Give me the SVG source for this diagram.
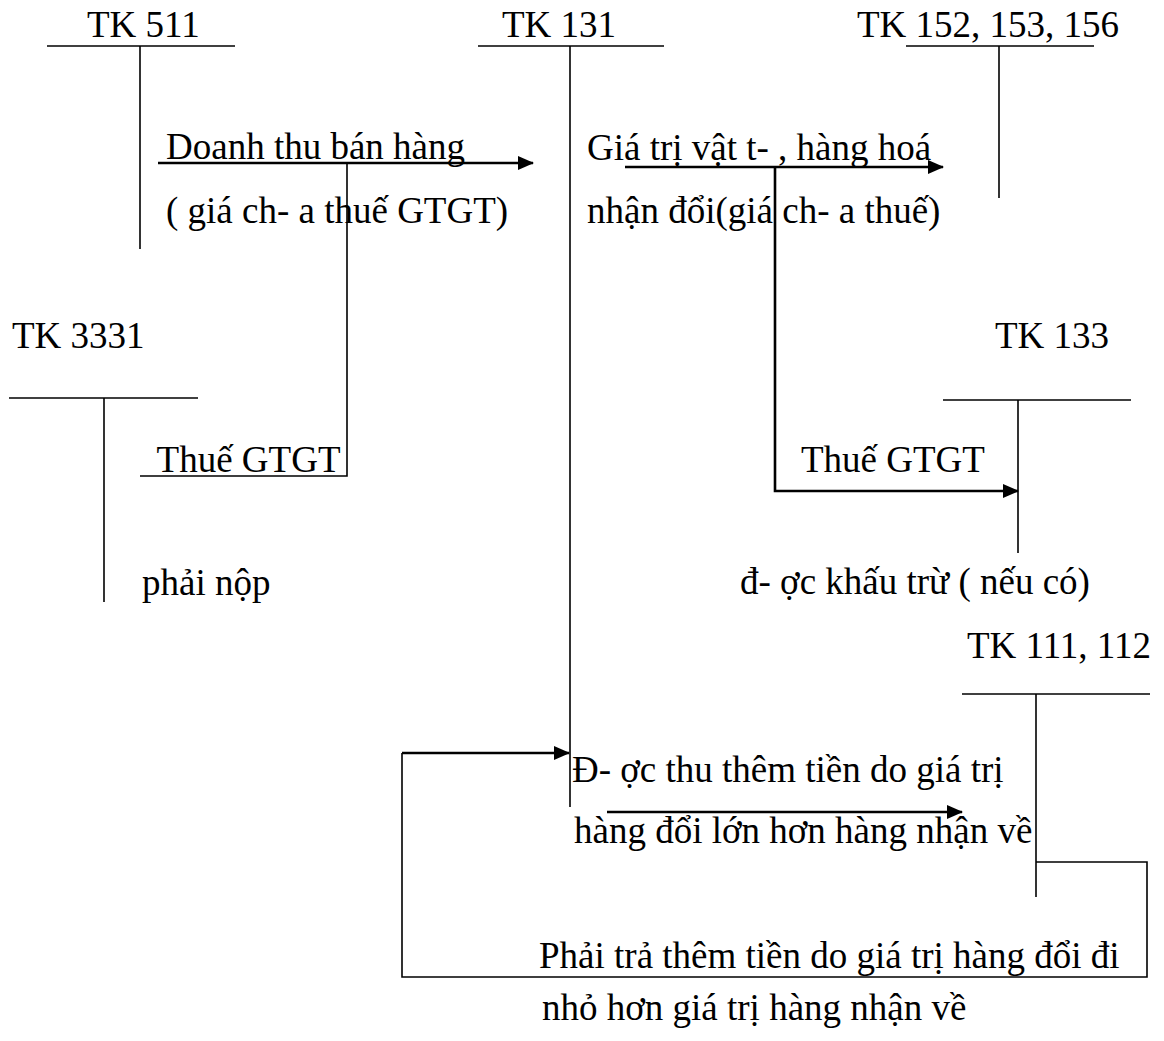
<svg xmlns="http://www.w3.org/2000/svg" width="1164" height="1041" viewBox="0 0 1164 1041">
  <defs>
    <marker id="arrow" markerUnits="userSpaceOnUse" markerWidth="16" markerHeight="14" refX="15" refY="7" orient="auto">
      <path d="M0,0 L16,7 L0,14 z" fill="#000"/>
    </marker>
    <style>
      text { font-family: "Liberation Serif", "Times New Roman", serif; font-size: 37px; fill: #000; white-space: pre; }
      .t { stroke: #000; stroke-width: 1.6; fill: none; }
      .a { stroke: #000; stroke-width: 2.6; fill: none; marker-end: url(#arrow); }
      .c { stroke: #000; stroke-width: 1.6; fill: none; }
    </style>
  </defs>
  <rect width="1164" height="1041" fill="#fff"/>

  <!-- T-accounts -->
  <g id="tk511">
    <text x="87" y="37">TK 511</text>
    <line class="t" x1="47" y1="46" x2="235" y2="46"/>
    <line class="t" x1="140" y1="46" x2="140" y2="249"/>
  </g>
  <g id="tk131">
    <text x="502" y="37">TK 131</text>
    <line class="t" x1="478" y1="46" x2="664" y2="46"/>
    <line class="t" x1="570" y1="46" x2="570" y2="807"/>
  </g>
  <g id="tk152">
    <text x="857" y="37">TK 152, 153, 156</text>
    <line class="t" x1="906" y1="46" x2="1094" y2="46"/>
    <line class="t" x1="999" y1="46" x2="999" y2="198"/>
  </g>
  <g id="tk3331">
    <text x="12" y="348">TK 3331</text>
    <line class="t" x1="9" y1="398" x2="198" y2="398"/>
    <line class="t" x1="104" y1="398" x2="104" y2="602"/>
  </g>
  <g id="tk133">
    <text x="995" y="348">TK 133</text>
    <line class="t" x1="943" y1="400" x2="1131" y2="400"/>
    <line class="t" x1="1018" y1="400" x2="1018" y2="553"/>
  </g>
  <g id="tk111">
    <text x="967" y="658">TK 111, 112</text>
    <line class="t" x1="962" y1="694" x2="1150" y2="694"/>
    <line class="t" x1="1036" y1="694" x2="1036" y2="897"/>
  </g>

  <!-- Connectors -->
  <g id="connectors">
    <line class="a" x1="158" y1="163" x2="533" y2="163"/>
    <polyline class="c" points="347,163 347,476 140,476"/>
    <line class="a" x1="625" y1="167" x2="943" y2="167"/>
    <polyline class="a" points="775,167 775,491 1018,491"/>
    <line class="a" x1="607" y1="812" x2="962" y2="812"/>
    <polyline class="c" points="1036,862 1147,862 1147,977 402,977 402,753"/>
    <line class="a" x1="402" y1="753" x2="569" y2="753"/>
  </g>

  <!-- Labels -->
  <g id="labels">
    <text x="166" y="159">Doanh thu bán hàng</text>
    <text x="166" y="223">( giá ch- a thuế GTGT)</text>
    <text x="587" y="160">Giá trị vật t- , hàng hoá</text>
    <text x="587" y="223">nhận đổi(giá ch- a thuế)</text>
    <text x="148" y="472"> Thuế GTGT</text>
    <text x="142" y="595">phải nộp</text>
    <text x="801" y="472">Thuế GTGT</text>
    <text x="740" y="594">đ- ợc khấu trừ ( nếu có)</text>
    <text x="572" y="782">Đ- ợc thu thêm tiền do giá trị</text>
    <text x="574" y="843">hàng đổi lớn hơn hàng nhận về</text>
    <text x="539" y="968">Phải trả thêm tiền do giá trị hàng đổi đi</text>
    <text x="542" y="1020">nhỏ hơn giá trị hàng nhận về</text>
  </g>
</svg>
